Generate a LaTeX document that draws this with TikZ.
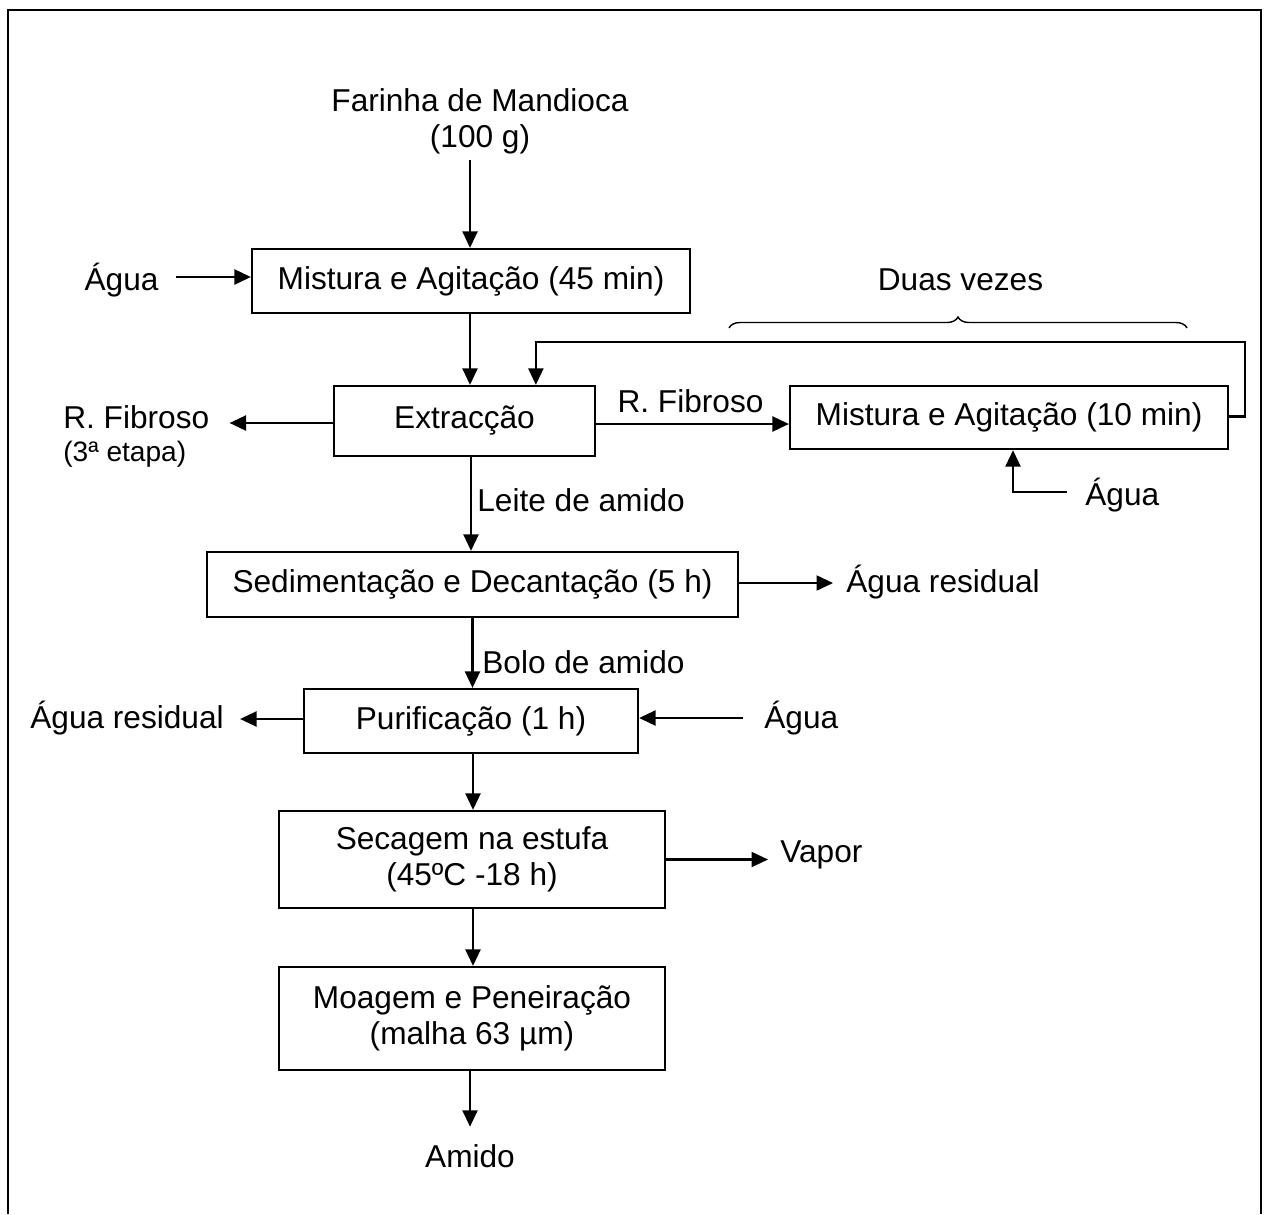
\documentclass[tikz,border=0pt]{standalone}
\usepackage{fontspec}
\setmainfont{Liberation Sans}
\usetikzlibrary{arrows.meta,calc,decorations.pathreplacing}
\begin{document}
\begin{tikzpicture}[x=0.02cm,y=-0.02cm,
  every node/.style={font=\fontsize{18}{20.7}\selectfont, inner sep=0pt},
  box/.style={draw, line width=1.3pt, align=center},
  arr/.style={line width=1.3pt, -{Triangle[length=0.33cm,width=0.3cm]}},
  small/.style={font=\fontsize{16}{18}\selectfont},
  frame/.style={line width=1.6pt},
  bracestyle/.style={line width=0.8pt, decorate, decoration={brace, amplitude=0.22cm}}]
\useasboundingbox (0,0) rectangle (1267,1214);
% frame
\draw[frame] (8,1214) -- (8,10) -- (1261,10) -- (1261,1214);

% boxes
\node[box, minimum width=8.76cm, minimum height=1.28cm] (b1) at (471,281) {Mistura e Agitação (45 min)};
\node[box, minimum width=5.22cm, minimum height=1.4cm] (ext) at (464.5,421) {Extracção};
\node[box, minimum width=8.76cm, minimum height=1.26cm] (b2) at (1009,417.5) {Mistura e Agitação (10 min)};
\node[box, minimum width=10.62cm, minimum height=1.3cm] (sed) at (472.5,584.5) {\raisebox{0.08cm}{Sedimentação e Decantação (5 h)}};
\node[box, minimum width=6.68cm, minimum height=1.28cm] (pur) at (471,721) {Purificação (1 h)};
\node[box, minimum width=7.72cm, minimum height=1.94cm] (sec) at (472,859.5) {Secagem na estufa\\(45ºC -18 h)};
\node[box, minimum width=7.72cm, minimum height=2.06cm] (moa) at (472,1018.5) {Moagem e Peneiração\\(malha 63 µm)};

% labels
\node[align=center, anchor=north] (farinha) at (480,88) {Farinha de Mandioca\\(100 g)};
\node[anchor=base] (agua1) at (121.5,290) {Água};
\node[anchor=base] (duas) at (960.5,290) {Duas vezes};
\node[anchor=base west] (rf1) at (63,428) {R. Fibroso};
\node[anchor=base west, small] (rf1b) at (63,461) {(3ª etapa)};
\node[anchor=base] (rf2) at (690.5,412) {R. Fibroso};
\node[anchor=base west] (agua2) at (1085,505) {Água};
\node[anchor=base west] (leite) at (477,511) {Leite de amido};
\node[anchor=base west] (aguar1) at (846,592) {Água residual};
\node[anchor=base west] (bolo) at (482,673) {Bolo de amido};
\node[anchor=base west] (aguar2) at (30,728) {Água residual};
\node[anchor=base west] (agua3) at (764,728) {Água};
\node[anchor=base west] (vapor) at (780,862) {Vapor};
\node[anchor=base] (amido) at (470,1167) {Amido};

% connectors
\draw[arr] ($(farinha.south -| b1.north)+(-1,5)$) -- ($(b1.north)+(-1,0)$);
\draw[arr] ($(b1.west -| agua1.east)+(17,-4)$) -- ($(b1.west)+(0,-4)$);
\draw[arr] ($(b1.south)+(-1,0)$) -- ($(b1.south |- ext.north)+(-1,0)$);
\draw[arr] ($(ext.west)+(0,2)$) -- ($(ext.west -| rf1.east)+(20,2)$);
\draw[arr] ($(ext.east)+(0,3)$) -- ($(ext.east -| b2.west)+(0,3)$);
\draw[arr] ($(b2.east)+(0,-1)$) -- ++(16,0) |- ($(ext.north west)+(203,-43)$) -- ($(ext.north west)+(203,0)$);
\draw[arr] ($(agua2.base west)+(-18,-13)$) -| ($(b2.south)+(4,0)$);
\draw[arr] ($(ext.south)+(6.5,0)$) -- ($(ext.south |- sed.north)+(6.5,0)$);
\draw[arr] ($(sed.east)+(0,-1.5)$) -- ($(sed.east -| aguar1.west)+(-13,-1.5)$);
\draw[arr] (sed.south) -- (sed.south |- pur.north);
\draw[arr] ($(pur.west)+(0,-2)$) -- ($(pur.west -| aguar2.east)+(16,-2)$);
\draw[arr] ($(pur.east -| agua3.west)+(-21,-3)$) -- ($(pur.east)+(0,-3)$);
\draw[arr] ($(pur.south)+(2,0)$) -- ($(pur.south |- sec.north)+(2,0)$);
\draw[arr] (sec.east) -- ($(sec.east -| vapor.west)+(-12,0)$);
\draw[arr] ($(sec.south)+(1,0)$) -- ($(sec.south |- moa.north)+(1,0)$);
\draw[arr] ($(moa.south)+(-2,0)$) -- ($(moa.south |- amido.north)+(-2,-17)$);

% brace
\draw[bracestyle] (729,328) -- (1187,328);
\end{tikzpicture}
\end{document}
